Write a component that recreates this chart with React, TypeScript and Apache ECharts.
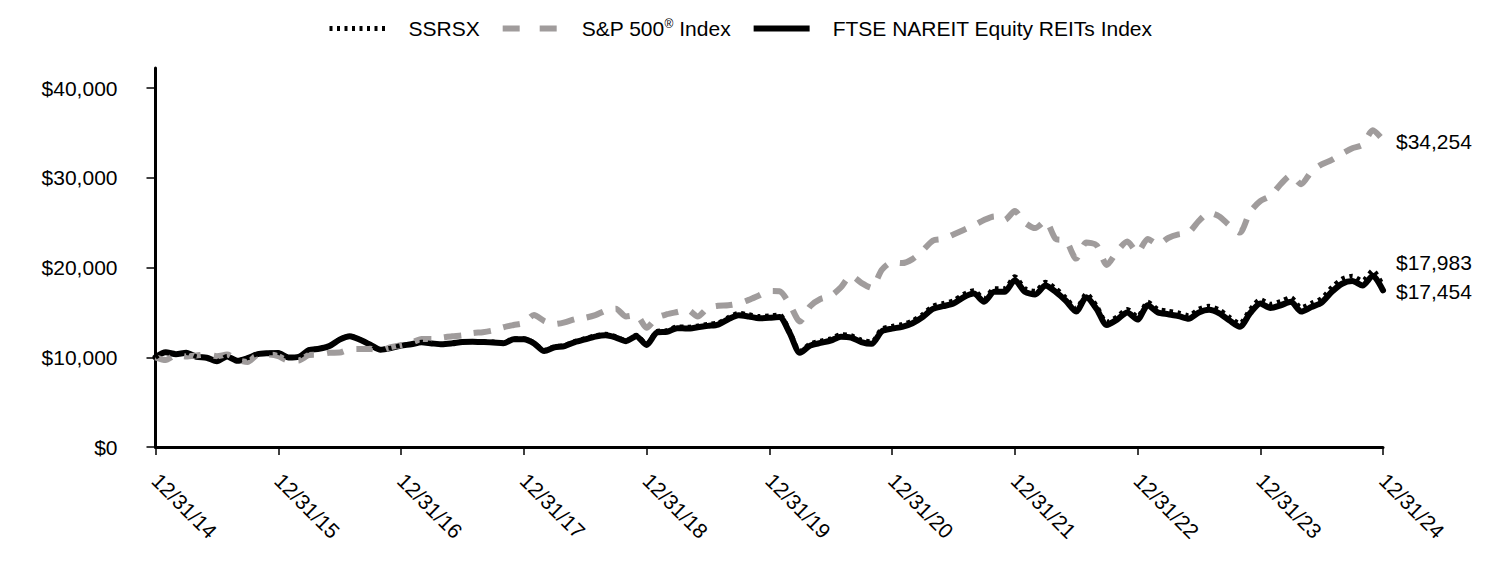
import React, { useEffect, useRef } from "react";
import * as echarts from "echarts";

const tickLabels = ["12/31/14", "12/31/15", "12/31/16", "12/31/17", "12/31/18", "12/31/19", "12/31/20", "12/31/21", "12/31/22", "12/31/23", "12/31/24"];
const yTicks = [0, 10000, 20000, 30000, 40000];

const seriesNames = ["SSRSX", "S&P 500® Index", "FTSE NAREIT Equity REITs Index"];

// monthly values, 12/31/14 .. 12/31/24
const ssrsx = [
  10000, 10560, 10380, 10520, 10080, 9970, 9560, 10120, 9640, 9930,
  10380, 10470, 10500, 10000, 10060, 10820, 10980, 11300, 12000, 12380,
  11980, 11430, 10880, 11050, 11330, 11480, 11700, 11560, 11480, 11590,
  11740, 11800, 11760, 11720, 11630, 12080, 12090, 11640, 10800, 11200,
  11350, 11800, 12100, 12420, 12600, 12330, 11880, 12480, 11500, 12900,
  13000, 13420, 13380, 13530, 13700, 13860, 14450, 14920, 14770, 14570,
  14630, 14740, 12920, 10700, 11520, 11830, 12080, 12540, 12440, 11930,
  11740, 13170, 13470, 13680, 14090, 14800, 15720, 16020, 16330, 17040,
  17450, 16550, 17670, 17680, 19000, 17680, 17380, 18390, 17680, 16660,
  15440, 17080, 15760, 13930, 14540, 15360, 14550, 16180, 15370, 15170,
  14970, 14670, 15400, 15710, 15300, 14490, 13780, 15330, 16460, 15950,
  16260, 16680, 15550, 16060, 16580, 17820, 18750, 19060, 18550, 19690,
  17983,
];

const sp500 = [
  10000, 9700, 10250, 10100, 10200, 10330, 10130, 10300, 9700, 9480,
  10280, 10310, 10140, 9630, 9650, 10250, 10300, 10500, 10530, 10900,
  10930, 10940, 10750, 11130, 11350, 11600, 12050, 12050, 12200, 12350,
  12450, 12700, 12800, 13000, 13350, 13600, 13830, 14720, 14050, 13700,
  13900, 14250, 14400, 14700, 15200, 15400, 14550, 14700, 13300, 14400,
  14800, 15050, 15300, 14550, 15500, 15750, 15800, 16000, 16400, 16900,
  17400, 17370, 15900, 14000, 15700, 16500, 16840, 17790, 19100, 18300,
  17750, 19750, 20590, 20500, 20950, 21900, 23000, 23200, 23700, 24200,
  24700, 25300, 25700, 25300, 26300, 25000, 24400, 25200, 23200, 23000,
  21000, 22800, 22500, 20300, 21800, 22900, 21700, 23200, 22600, 23300,
  23700, 23900, 25200, 26100, 25700, 24700, 23900, 26200, 27400, 28000,
  29300, 30300, 29300, 30700, 31500, 32000, 32700, 33300, 33700, 35300,
  34254,
];

const ftse = [
  10000, 10550, 10350, 10500, 10050, 9950, 9550, 10100, 9620, 9900,
  10350, 10450, 10480, 9980, 10050, 10800, 10950, 11250, 11970, 12350,
  11950, 11400, 10850, 11020, 11300, 11450, 11670, 11550, 11450, 11550,
  11700, 11740, 11700, 11650, 11560, 12000, 12000, 11550, 10700, 11100,
  11250, 11700, 12000, 12300, 12450, 12200, 11800, 12350, 11370, 12750,
  12850, 13250, 13200, 13350, 13500, 13650, 14250, 14700, 14550, 14350,
  14400, 14500, 12700, 10500, 11300, 11600, 11850, 12300, 12200, 11700,
  11500, 12900, 13200, 13400, 13800, 14500, 15400, 15700, 16000, 16700,
  17100, 16200, 17300, 17300, 18600, 17300, 17000, 18000, 17300, 16300,
  15100, 16700, 15400, 13600, 14200, 15000, 14200, 15800, 15000, 14800,
  14600, 14300, 15000, 15300, 14900, 14100, 13400, 14900, 16000, 15500,
  15800, 16200, 15100, 15600, 16100, 17300, 18200, 18500, 18000, 19100,
  17454,
];

const FONT = "Arial, 'Liberation Sans', Helvetica, sans-serif";
const money = (v: number) => "$" + Math.round(v).toLocaleString("en-US");

const GRAY = "#a09c9c";
const hiddenSymbol = { color: "rgba(0,0,0,0)", borderColor: "rgba(0,0,0,0)", borderWidth: 0 };

export default function App() {
  const ref = useRef<HTMLDivElement>(null);
  useEffect(() => {
    if (!ref.current) return;
    const chart = echarts.init(ref.current, undefined, { renderer: "svg" });
    const toPairs = (arr: number[]) => arr.map((v, i) => [i, v]);
    const endLabel = (dy: number) => ({
      show: true,
      formatter: (p: any) => money(p.value[1]),
      color: "#000",
      fontSize: 21,
      fontFamily: FONT,
      distance: 13,
      offset: [0, dy],
    });
    chart.setOption({
      animation: false,
      backgroundColor: "#fff",
      textStyle: { fontFamily: FONT, color: "#000" },
      legend: {
        data: [
          { name: seriesNames[0], itemStyle: hiddenSymbol, lineStyle: { color: "#000", width: 5, type: [3, 4.5], cap: "butt" } },
          { name: seriesNames[1], itemStyle: hiddenSymbol, lineStyle: { color: GRAY, width: 6, type: [17, 20], cap: "butt" } },
          { name: seriesNames[2], itemStyle: hiddenSymbol, lineStyle: { color: "#000", width: 6, type: "solid", cap: "butt" } },
        ],
        left: 322,
        top: 13,
        itemWidth: 56,
        itemHeight: 14,
        itemGap: 20,
        formatter: (name: string) =>
          name === seriesNames[1] ? "S&P 500{sup|®} Index" : name,
        textStyle: {
          fontSize: 21,
          fontFamily: FONT,
          color: "#000",
          padding: [0, 0, 0, 18],
          rich: {
            sup: { fontSize: 12, fontFamily: FONT, color: "#000", padding: [0, 0, 9, 0] },
          },
        },
      },
      grid: { left: 155.5, right: 117, top: 68, bottom: 141, containLabel: false },
      xAxis: {
        type: "value",
        min: 0,
        max: 120,
        interval: 12,
        axisLine: { show: true, onZero: false, lineStyle: { color: "#000", width: 3 } },
        axisTick: { show: true, length: 8, lineStyle: { color: "#000", width: 1.5 } },
        axisLabel: {
          rotate: -45,
          fontSize: 21,
          fontFamily: FONT,
          color: "#000",
          margin: 30,
          formatter: (v: number) => tickLabels[Math.round(v / 12)] ?? "",
        },
        splitLine: { show: false },
      },
      yAxis: {
        type: "value",
        min: 0,
        max: 42250,
        interval: 10000,
        axisLine: { show: true, lineStyle: { color: "#000", width: 3 } },
        axisTick: { show: true, length: 9, customValues: yTicks, lineStyle: { color: "#000", width: 1.5 } },
        axisLabel: {
          customValues: yTicks,
          fontSize: 21,
          fontFamily: FONT,
          color: "#000",
          margin: 38,
          formatter: (v: number) => money(v),
        },
        splitLine: { show: false },
      },
      series: [
        {
          name: seriesNames[0],
          type: "line",
          data: toPairs(ssrsx),
          symbol: "none",
          smooth: 0.25,
          z: 5,
          lineStyle: { color: "#000", width: 4.5, type: [3.5, 4.5], cap: "butt" },
          itemStyle: { color: "#000" },
          endLabel: endLabel(-23),
        },
        {
          name: seriesNames[1],
          type: "line",
          data: toPairs(sp500),
          symbol: "none",
          smooth: 0.25,
          z: 4,
          lineStyle: { color: GRAY, width: 6, type: [17, 13], cap: "butt" },
          itemStyle: { color: GRAY },
          endLabel: endLabel(2),
        },
        {
          name: seriesNames[2],
          type: "line",
          data: toPairs(ftse),
          symbol: "none",
          smooth: 0.25,
          z: 3,
          lineStyle: { color: "#000", width: 6, cap: "round", join: "round" },
          itemStyle: { color: "#000" },
          endLabel: endLabel(1),
        },
      ],
    });
    return () => chart.dispose();
  }, []);
  return (
    <div
      ref={ref}
      style={{ position: "absolute", left: 0, top: 0, width: 1500, height: 588, background: "#fff" }}
    />
  );
}
